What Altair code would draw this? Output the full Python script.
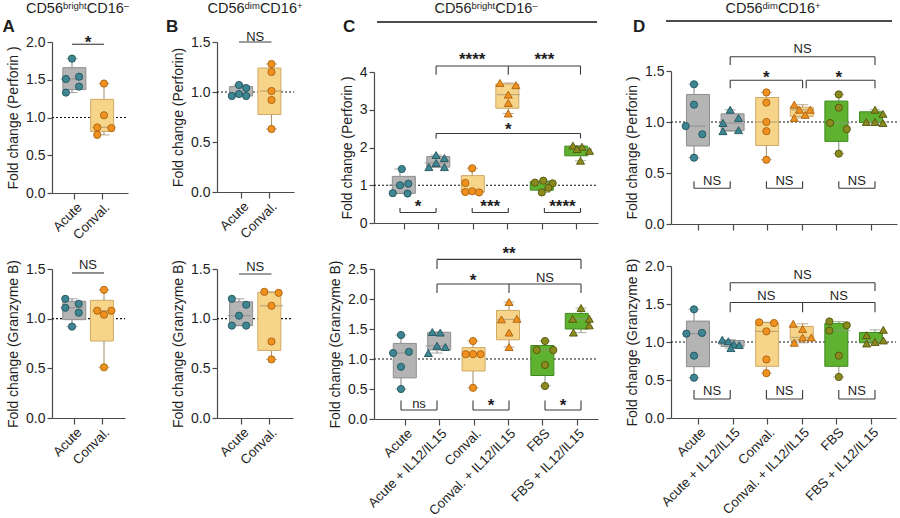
import json

import altair as alt
import numpy as np
import pandas as pd

W, H = 900, 518
FONT = "Liberation Sans"
INK = "#1e1e1e"
AXIS_INK = "#4a4a4a"
BRACKET_INK = "#3a3a3a"

# ---------------------------------------------------------------- categories
CATS_2 = ["Acute", "Conval."]
CATS_6 = ["Acute", "Acute + IL12/IL15", "Conval.", "Conval. + IL12/IL15",
          "FBS", "FBS + IL12/IL15"]
GROUP_2 = ["acute", "conval"]
GROUP_6 = ["acute", "acute", "conval", "conval", "fbs", "fbs"]
STIM_2 = [False, False]
STIM_6 = [False, True, False, True, False, True]

# ------------------------------------------- fold change, 5 donors per group
A_PERF = [[1.78, 1.51, 1.54, 1.41, 1.33], [1.45, 1.03, 0.87, 0.86, 0.77]]
A_GZMB = [[1.20, 1.11, 1.15, 1.06, 0.92], [1.29, 1.08, 1.04, 1.08, 0.51]]
B_PERF = [[1.07, 1.04, 0.98, 0.96, 0.96], [1.28, 1.20, 1.01, 0.92, 0.63]]
B_GZMB = [[1.20, 1.14, 1.03, 0.93, 0.93], [1.27, 1.26, 1.13, 0.77, 0.59]]
C_PERF = [
    [1.43, 1.00, 1.04, 0.79, 0.78],
    [1.80, 1.72, 1.59, 1.48, 1.48],
    [1.45, 1.06, 0.82, 0.84, 0.81],
    [3.71, 3.65, 3.40, 3.18, 2.90],
    [1.07, 1.12, 1.05, 0.93, 0.81],
    [2.05, 2.02, 1.96, 1.91, 1.65],
]
C_GZMB = [
    [1.40, 1.10, 1.12, 0.87, 0.50],
    [1.45, 1.44, 1.10, 1.22, 1.20],
    [1.30, 1.08, 1.08, 1.08, 0.52],
    [1.95, 1.66, 1.67, 1.44, 1.20],
    [1.30, 1.15, 1.15, 0.90, 0.55],
    [1.85, 1.67, 1.67, 1.56, 1.44],
]
D_PERF = [
    [1.37, 1.17, 0.96, 0.88, 0.65],
    [1.12, 1.04, 0.99, 0.91, 0.92],
    [1.29, 1.19, 1.00, 0.91, 0.63],
    [1.17, 1.12, 1.12, 1.04, 1.07],
    [1.27, 1.14, 0.99, 0.93, 0.69],
    [1.12, 1.08, 1.00, 1.00, 0.99],
]
D_GZMB = [
    [1.43, 1.11, 1.12, 0.82, 0.53],
    [1.03, 1.01, 0.97, 0.92, 0.96],
    [1.26, 1.25, 1.14, 0.77, 0.59],
    [1.24, 1.17, 0.99, 1.06, 1.06],
    [1.27, 1.15, 1.22, 0.82, 0.54],
    [1.16, 1.09, 1.00, 0.98, 1.02],
]

# ------------------------- horizontal scatter of each donor, category units
A_PERF_JIT = [[0, -0.19, 0.22, 0.22, -0.19], [0, 0, -0.21, 0.23, -0.21]]
A_GZMB_JIT = [[-0.21, -0.21, 0.21, 0.21, 0], [0, -0.21, 0, 0.23, 0]]
B_PERF_JIT = [[0, 0.22, 0, -0.22, 0.22], [0, 0, 0, 0, 0]]
B_GZMB_JIT = [[-0.22, 0.22, 0, -0.22, 0.22], [-0.22, 0.22, 0, 0, 0]]
C_PERF_JIT = [
    [0.05, 0, 0.23, -0.2, 0.21], [0, 0.23, 0, -0.2, 0.23],
    [0, -0.19, -0.19, 0, 0.19], [-0.23, 0.21, 0, 0, 0],
    [-0.26, -0.03, 0.23, 0.11, -0.07], [-0.21, 0.04, -0.1, 0.25, 0],
]
C_GZMB_JIT = [
    [0, -0.22, 0.22, 0, 0], [-0.13, 0.09, -0.24, 0, 0.23],
    [0, -0.2, 0, 0.21, 0], [0, -0.21, 0.22, 0, 0],
    [0, -0.23, 0.23, 0, 0], [0, -0.23, 0.23, 0.23, -0.21],
]
D_PERF_JIT = [
    [0, 0, -0.23, 0.23, 0], [0, 0.23, -0.2, -0.2, 0.23],
    [0, 0, 0, 0, 0], [-0.23, -0.09, 0.21, -0.23, 0.07],
    [0, 0, -0.24, 0.22, 0], [0, 0.22, -0.24, 0, 0.22],
]
D_GZMB_JIT = [
    [0, -0.21, 0.22, 0, 0], [-0.22, -0.05, 0.1, 0.02, 0.25],
    [-0.2, 0.21, 0, 0, 0], [-0.26, 0, -0.23, 0, 0.24],
    [-0.26, -0.26, 0.22, 0, 0], [0.23, -0.23, 0, -0.23, 0.23],
]

# ------------------------------------------------ significance annotations
# brackets: (from category, to category, line level, leg end level)
# stems: (category, line level, leg end level); labels: (x, level, text)
A_PERF_BR = [(0, 1, 1.97, 1.97)]
A_PERF_STARS = [(0.5, 2.05, "*")]
A_GZMB_BR = [(0, 1, 1.46, 1.46)]
A_GZMB_WORDS = [(0.5, 1.55, "NS")]
B_PERF_BR = [(0, 1, 1.50, 1.50)]
B_PERF_WORDS = [(0.5, 1.56, "NS")]
B_GZMB_BR = [(0, 1, 1.45, 1.45)]
B_GZMB_WORDS = [(0.5, 1.53, "NS")]

C_PERF_BR = [(0, 1, 0.28, 0.40), (2, 3, 0.28, 0.40), (4, 5, 0.28, 0.40),
             (1, 5, 4.16, 3.93), (1, 5, 2.37, 2.24)]
C_PERF_STEMS = [(3, 4.16, 3.93)]
C_PERF_STARS = [(0.5, 0.53, "*"), (2.5, 0.53, "***"), (4.5, 0.53, "****"),
                (2, 4.44, "****"), (4, 4.44, "***"), (3, 2.57, "*")]

C_GZMB_BR = [(0, 1, 0.15, 0.31), (2, 3, 0.15, 0.31), (4, 5, 0.15, 0.31),
             (1, 5, 2.66, 2.50), (1, 5, 2.25, 2.10)]
C_GZMB_STEMS = [(3, 2.25, 2.10)]
C_GZMB_STARS = [(2.5, 0.29, "*"), (4.5, 0.29, "*"), (3, 2.82, "**"), (2, 2.37, "*")]
C_GZMB_WORDS = [(0.5, 0.27, "ns"), (4, 2.37, "NS")]

D_PERF_BR = [(0, 1, 0.35, 0.42), (2, 3, 0.35, 0.42), (4, 5, 0.35, 0.42),
             (1, 5, 1.64, 1.56), (1, 3, 1.41, 1.33), (3.1, 5, 1.41, 1.33)]
D_PERF_STARS = [(2, 1.48, "*"), (4, 1.48, "*")]
D_PERF_WORDS = [(0.5, 0.43, "NS"), (2.5, 0.43, "NS"), (4.5, 0.43, "NS"), (3, 1.72, "NS")]

D_GZMB_BR = [(0, 1, 0.25, 0.37), (2, 3, 0.25, 0.37), (4, 5, 0.25, 0.37),
             (1, 5, 1.78, 1.67), (1, 5, 1.52, 1.39)]
D_GZMB_STEMS = [(3, 1.52, 1.39)]
D_GZMB_WORDS = [(0.5, 0.36, "NS"), (2.5, 0.36, "NS"), (4.5, 0.36, "NS"),
                (3, 1.89, "NS"), (2, 1.62, "NS"), (4, 1.62, "NS")]

# --------------------------------------------------------------- styling
PALETTE = {
    "acute": dict(box="#b4b4b4", edge="#8e8e8e", line="#8a8a8a", dot="#3d8692", dot_edge="#23545c"),
    "conval": dict(box="#f6d58b", edge="#cfa965", line="#a89272", dot="#f0911f", dot_edge="#a9620f"),
    "fbs": dict(box="#5fb22f", edge="#3f8a1e", line="#8f9a86", dot="#8b8a1f", dot_edge="#54530c"),
}
BOX_W = 23
CAP_W = 11
DOT_SIZE = {"circle": 52, "triangle-up": 64}

# plot frames: y axis x, x axis end, first category centre, category step,
# y pixel of zero, y pixel of top tick
FRAMES = {
    "A_top": dict(x_px=52, x_end=128, cat0=72, step=32, y0=193, ytop=42, ymax=2.0,
                  ticks=[0, 0.5, 1.0, 1.5, 2.0], fmt=".1f"),
    "A_bot": dict(x_px=52, x_end=125, cat0=72, step=32, y0=418, ytop=269, ymax=1.5,
                  ticks=[0, 0.5, 1.0, 1.5], fmt=".1f"),
    "B_top": dict(x_px=217, x_end=294, cat0=239, step=32.5, y0=192, ytop=42, ymax=1.5,
                  ticks=[0, 0.5, 1.0, 1.5], fmt=".1f"),
    "B_bot": dict(x_px=217, x_end=293, cat0=239, step=32.5, y0=418, ytop=269, ymax=1.5,
                  ticks=[0, 0.5, 1.0, 1.5], fmt=".1f"),
    "C_top": dict(x_px=374, x_end=598, cat0=400, step=36.1, y0=223, ytop=72, ymax=4,
                  ticks=[0, 1, 2, 3, 4], fmt="d"),
    "C_bot": dict(x_px=374, x_end=598, cat0=401, step=36.0, y0=419, ytop=269, ymax=2.5,
                  ticks=[0, 0.5, 1.0, 1.5, 2.0, 2.5], fmt=".1f"),
    "D_top": dict(x_px=671, x_end=897, cat0=694, step=36.2, y0=224, ytop=71, ymax=1.5,
                  ticks=[0, 0.5, 1.0, 1.5], fmt=".1f"),
    "D_bot": dict(x_px=671, x_end=896, cat0=694, step=36.2, y0=418, ytop=266, ymax=2.0,
                  ticks=[0, 0.5, 1.0, 1.5, 2.0], fmt=".1f"),
}

AXIS_STYLE = dict(
    grid=False, domainColor=AXIS_INK, domainWidth=1.2, tickColor=AXIS_INK, tickWidth=1.2,
    labelColor=INK, labelFont=FONT, titleFont=FONT, titleFontSize=14,
    titleFontWeight="normal", titleColor=INK, labelFlush=False, labelOverlap=False,
    labelBound=False,
)


def box_stats(values):
    """Min, quartiles (GraphPad style, (n+1)p ranks) and max of one group."""
    a = np.asarray(values, dtype=float)
    q1, med, q3 = np.percentile(a, [25, 50, 75], method="weibull")
    return float(a.min()), float(q1), float(med), float(q3), float(a.max())


def panel(frame, cats, groups, stim, values, jitter, ytitle, show_x,
          brackets=(), stems=(), stars=(), words=()):
    """All layers of one box-plot panel; every layer repeats the panel's scales."""
    n = len(cats)
    x_dom = [(frame["x_px"] - frame["cat0"]) / frame["step"],
             (frame["x_end"] - frame["cat0"]) / frame["step"]]
    xs = alt.Scale(domain=x_dom, range=[frame["x_px"], frame["x_end"]], nice=False, zero=False)
    ys = alt.Scale(domain=[0, frame["ymax"]], range=[frame["y0"], frame["ytop"]],
                   nice=False, zero=False)

    y_axis = alt.Axis(orient="left", offset=-frame["x_px"], values=frame["ticks"],
                      format=frame["fmt"], title=ytitle, tickSize=5, labelPadding=2,
                      titlePadding=5, labelFontSize=14, **AXIS_STYLE)
    x_axis = alt.Axis(orient="bottom", offset=frame["y0"] - H, values=list(range(n)),
                      labels=show_x, labelExpr=json.dumps(cats) + "[datum.value]",
                      labelAngle=-45, labelAlign="right", labelBaseline="top",
                      tickSize=6, labelPadding=1, labelFontSize=13.3, title=None,
                      **AXIS_STYLE)

    boxes, caps, pts = [], [], []
    for i, (g, s, vals, jit) in enumerate(zip(groups, stim, values, jitter)):
        lo, q1, med, q3, hi = box_stats(vals)
        pal = PALETTE[g]
        boxes.append(dict(x=i, lo=lo, q1=q1, med=med, q3=q3, hi=hi,
                          fill=pal["box"], edge=pal["edge"], line=pal["line"]))
        caps += [dict(x=i, y=lo, line=pal["line"]), dict(x=i, y=hi, line=pal["line"])]
        shape = "triangle-up" if s else "circle"
        for v, d in zip(vals, jit):
            pts.append(dict(x=i + d, y=v, shape=shape, fill=pal["dot"],
                            edge=pal["dot_edge"], sz=DOT_SIZE[shape]))
    boxes = pd.DataFrame(boxes)

    def X(field, axis=None):
        return alt.X(field, type="quantitative", scale=xs, axis=axis)

    def Y(field, axis=None):
        return alt.Y(field, type="quantitative", scale=ys, axis=axis)

    layers = []
    # reference line at a fold change of 1
    ref = pd.DataFrame([dict(x=x_dom[0], x2=x_dom[1], y=1.0)])
    layers.append(alt.Chart(ref).mark_rule(color="#111111", strokeDash=[2, 2], strokeWidth=1.1)
                  .encode(x=X("x"), x2="x2:Q", y=Y("y")))
    # whiskers (min to max)
    layers.append(alt.Chart(boxes).mark_rule(strokeWidth=1.1)
                  .encode(x=X("x"), y=Y("lo"), y2="hi:Q", color=alt.Color("line:N", scale=None)))
    # interquartile boxes, carrying both axes
    layers.append(alt.Chart(boxes).mark_bar(size=BOX_W, orient="vertical", strokeWidth=1)
                  .encode(x=X("x", x_axis), y=Y("q1", y_axis), y2="q3:Q",
                          fill=alt.Fill("fill:N", scale=None),
                          stroke=alt.Stroke("edge:N", scale=None)))
    # medians
    layers.append(alt.Chart(boxes).mark_tick(orient="horizontal", size=BOX_W, thickness=1.2)
                  .encode(x=X("x"), y=Y("med"), color=alt.Color("line:N", scale=None)))
    # whisker caps
    layers.append(alt.Chart(pd.DataFrame(caps)).mark_tick(orient="horizontal", size=CAP_W, thickness=1.1)
                  .encode(x=X("x"), y=Y("y"), color=alt.Color("line:N", scale=None)))
    # donors
    layers.append(alt.Chart(pd.DataFrame(pts)).mark_point(filled=True, opacity=1, strokeWidth=0.9)
                  .encode(x=X("x"), y=Y("y"),
                          shape=alt.Shape("shape:N", scale=None),
                          fill=alt.Fill("fill:N", scale=None),
                          stroke=alt.Stroke("edge:N", scale=None),
                          size=alt.Size("sz:Q", scale=None)))
    # comparison brackets
    segs = []
    for a, b, yl, yg in brackets:
        segs += [dict(x=a, x2=b, y=yl, y2=yl), dict(x=a, x2=a, y=yl, y2=yg),
                 dict(x=b, x2=b, y=yl, y2=yg)]
    for c, yl, yg in stems:
        segs.append(dict(x=c, x2=c, y=yl, y2=yg))
    if segs:
        layers.append(alt.Chart(pd.DataFrame(segs)).mark_rule(color=BRACKET_INK, strokeWidth=1.1)
                      .encode(x=X("x"), x2="x2:Q", y=Y("y"), y2="y2:Q"))
    if stars:
        df = pd.DataFrame(stars, columns=["x", "y", "t"])
        layers.append(alt.Chart(df).mark_text(font=FONT, fontSize=17, fontWeight="bold",
                                              color=INK, baseline="alphabetic", dy=9.5)
                      .encode(x=X("x"), y=Y("y"), text="t:N"))
    if words:
        df = pd.DataFrame(words, columns=["x", "y", "t"])
        layers.append(alt.Chart(df).mark_text(font=FONT, fontSize=13, color=INK,
                                              baseline="alphabetic", dy=4.7)
                      .encode(x=X("x"), y=Y("y"), text="t:N"))
    return layers


PERF = "Fold change (Perforin )"
GZMB = "Fold change (Granzyme B)"

layers = []
layers += panel(FRAMES["A_top"], CATS_2, GROUP_2, STIM_2, A_PERF, A_PERF_JIT, PERF, True,
                brackets=A_PERF_BR, stars=A_PERF_STARS)
layers += panel(FRAMES["A_bot"], CATS_2, GROUP_2, STIM_2, A_GZMB, A_GZMB_JIT, GZMB, True,
                brackets=A_GZMB_BR, words=A_GZMB_WORDS)
layers += panel(FRAMES["B_top"], CATS_2, GROUP_2, STIM_2, B_PERF, B_PERF_JIT,
                "Fold change (Perforin)", True, brackets=B_PERF_BR, words=B_PERF_WORDS)
layers += panel(FRAMES["B_bot"], CATS_2, GROUP_2, STIM_2, B_GZMB, B_GZMB_JIT, GZMB, True,
                brackets=B_GZMB_BR, words=B_GZMB_WORDS)
layers += panel(FRAMES["C_top"], CATS_6, GROUP_6, STIM_6, C_PERF, C_PERF_JIT, PERF, False,
                brackets=C_PERF_BR, stems=C_PERF_STEMS, stars=C_PERF_STARS)
layers += panel(FRAMES["C_bot"], CATS_6, GROUP_6, STIM_6, C_GZMB, C_GZMB_JIT, GZMB, True,
                brackets=C_GZMB_BR, stems=C_GZMB_STEMS, stars=C_GZMB_STARS, words=C_GZMB_WORDS)
layers += panel(FRAMES["D_top"], CATS_6, GROUP_6, STIM_6, D_PERF, D_PERF_JIT, PERF, False,
                brackets=D_PERF_BR, stars=D_PERF_STARS, words=D_PERF_WORDS)
layers += panel(FRAMES["D_bot"], CATS_6, GROUP_6, STIM_6, D_GZMB, D_GZMB_JIT, GZMB, True,
                brackets=D_GZMB_BR, stems=D_GZMB_STEMS, words=D_GZMB_WORDS)

# ------------------------------------------------- headers and panel letters
ARIAL_EM = {"C": .722, "D": .722, "5": .556, "6": .556, "1": .556, "b": .556, "r": .333,
            "i": .222, "g": .556, "h": .556, "t": .278, "d": .556, "m": .833, "+": .584,
            "\u2013": .556}
HEAD_MAIN, HEAD_SUP, HEAD_BASE, SUP_RISE = 14.5, 9.5, 13, 4.3


def text_width(s, size):
    return sum(ARIAL_EM.get(c, 0.556) for c in s) * size


def one_text(text, x, y, size, weight="normal", align="left"):
    return (alt.Chart(pd.DataFrame({"t": [text]}))
            .mark_text(font=FONT, fontSize=size, fontWeight=weight, color=INK,
                       align=align, baseline="alphabetic")
            .encode(x=alt.value(x), y=alt.value(y), text="t:N"))


def subset_header(centre, parts):
    sizes = [HEAD_SUP if sup else HEAD_MAIN for _, sup in parts]
    x = centre - sum(text_width(t, s) for (t, _), s in zip(parts, sizes)) / 2
    out = []
    for (t, sup), s in zip(parts, sizes):
        out.append(one_text(t, x, HEAD_BASE - (SUP_RISE if sup else 0), s))
        x += text_width(t, s)
    return out


BRIGHT = [("CD56", False), ("bright", True), ("CD16", False), ("\u2013", True)]
DIM = [("CD56", False), ("dim", True), ("CD16", False), ("+", True)]

layers += subset_header(77.5, BRIGHT)
layers += subset_header(255, DIM)
layers += subset_header(486, BRIGHT)
layers += subset_header(773, DIM)
for letter, lx in [("A", 2.5), ("B", 166), ("C", 343), ("D", 633)]:
    layers.append(one_text(letter, lx, 32, 17, weight="bold"))
for x1, x2, ly in [(377, 597, 22), (666, 892, 21)]:
    layers.append(alt.Chart(pd.DataFrame({"k": [0]})).mark_rule(color="#111111", strokeWidth=1.5)
                  .encode(x=alt.value(x1), x2=alt.value(x2), y=alt.value(ly)))

chart = (
    alt.layer(*layers)
    .resolve_scale(x="independent", y="independent")
    .resolve_axis(x="independent", y="independent")
    .properties(width=W, height=H, padding=0, autosize="none", background="white")
    .configure_view(stroke=None)
)

chart.save("out.html", embed_options={"renderer": "svg", "actions": False})
